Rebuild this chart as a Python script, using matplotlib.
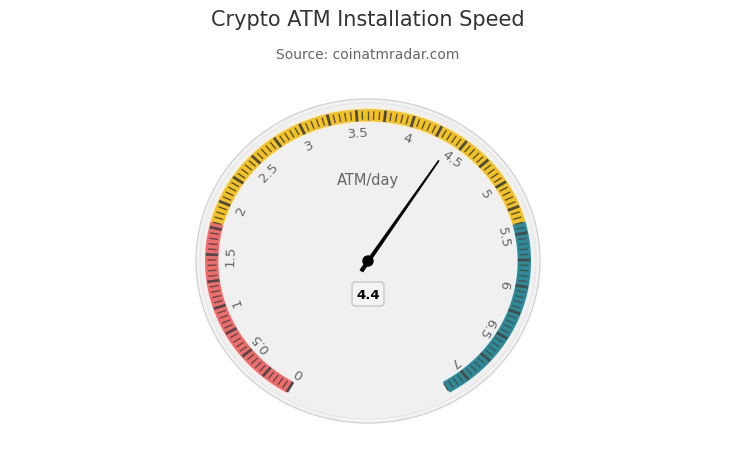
import numpy as np
import matplotlib.pyplot as plt
from matplotlib.patches import Ellipse, Polygon, Circle, FancyBboxPatch

title = "Crypto ATM Installation Speed"
subtitle = "Source: coinatmradar.com"
unit_label = "ATM/day"
value = 4.4
axis_min, axis_max = 0, 7.2
band_from = [0, 1.8, 5.4]
band_to = [1.8, 5.4, 7.2]
band_colors = ['#f76a6a', '#f6c21e', '#2a8b99']
tick_labels = [0, 0.5, 1, 1.5, 2, 2.5, 3, 3.5, 4, 4.5, 5, 5.5, 6, 6.5, 7]
major_step = 0.25
minor_step = 0.05

fig = plt.figure(figsize=(7.36, 4.6), dpi=100)
ax = fig.add_axes([0, 0, 1, 1])
ax.set_xlim(0, 736)
ax.set_ylim(460, 0)
ax.axis('off')

# gauge geometry (pixels); picture is slightly squashed vertically
cx, cy = 368, 262
rx, ry = 163, 152


def ang(v):
    return np.radians(-150 + (v - axis_min) / (axis_max - axis_min) * 300)


def pt(v, f):
    a = ang(v)
    return cx + f * rx * np.sin(a), cy - f * ry * np.cos(a)


# pane background
ax.add_patch(Ellipse((cx, cy), 344, 324, facecolor='#f3f3f3', edgecolor='#d4d4d4', lw=1.0))
ax.add_patch(Ellipse((cx, cy), 336, 316, facecolor='#f0f0f0', edgecolor='#e6e6e6', lw=0.8))

# plot bands
for b0, b1, c in zip(band_from, band_to, band_colors):
    vs = np.linspace(b0, b1, 80)
    outer = [pt(v, 1.0) for v in vs]
    inner = [pt(v, 0.918) for v in vs[::-1]]
    ax.add_patch(Polygon(outer + inner, closed=True, facecolor=c, edgecolor='none'))

# ticks
minor_vals = np.arange(axis_min, axis_max + 1e-9, minor_step)
for v in minor_vals:
    if abs(v / major_step - round(v / major_step)) < 1e-6:
        continue
    x0, y0 = pt(v, 0.985)
    x1, y1 = pt(v, 0.93)
    ax.plot([x0, x1], [y0, y1], color='#505050', lw=1.0, solid_capstyle='butt')
major_vals = np.arange(axis_min, axis_max + 1e-9, major_step)
for v in major_vals:
    x0, y0 = pt(v, 0.995)
    x1, y1 = pt(v, 0.92)
    ax.plot([x0, x1], [y0, y1], color='#4a4a4a', lw=2.0, solid_capstyle='butt')

# labels
for v in tick_labels:
    x, y = pt(v, 0.845)
    ax.text(x, y, f"{v:g}", ha='center', va='center', fontsize=9.5, color='#666666',
            rotation=-np.degrees(ang(v)), rotation_mode='anchor')

ax.text(cx, 181, unit_label, ha='center', va='center', fontsize=10.5, color='#666666')

# needle
a = ang(value)
ux, uy = np.sin(a), -np.cos(a)
px, py = np.cos(a), np.sin(a)
tip = (cx + 0.79 * rx * ux, cy + 0.79 * ry * uy)
rear = (cx - 12 * ux, cy - 12 * uy)
needle = [
    (rear[0] + 1.8 * px, rear[1] + 1.8 * py),
    (tip[0] + 0.5 * px, tip[1] + 0.5 * py),
    (tip[0] - 0.5 * px, tip[1] - 0.5 * py),
    (rear[0] - 1.8 * px, rear[1] - 1.8 * py),
]
ax.add_patch(Polygon(needle, closed=True, facecolor='black', edgecolor='black', lw=0.5, zorder=5))
ax.add_patch(Circle((cx, cy), 5, facecolor='black', edgecolor='black', zorder=6))

# data label
ax.add_patch(FancyBboxPatch((352, 283), 32, 24, boxstyle='round,pad=0,rounding_size=3',
                            facecolor='#f4f4f4', edgecolor='#c8c8c8', lw=1, zorder=6))
ax.text(368, 295.5, f"{value:g}", ha='center', va='center', fontsize=9.5,
        fontweight='bold', color='black', zorder=7)

ax.text(368, 20, title, ha='center', va='center', fontsize=15, color='#333333')
ax.text(368, 55, subtitle, ha='center', va='center', fontsize=10, color='#666666')

fig.savefig('out.png', dpi=100, facecolor='white')
